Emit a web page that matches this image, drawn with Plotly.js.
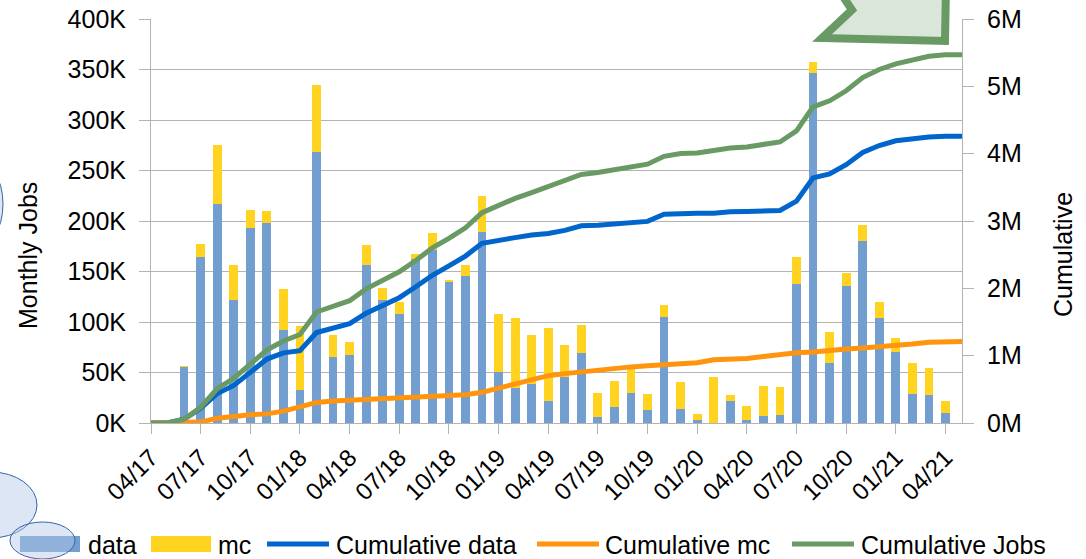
<!DOCTYPE html>
<html><head><meta charset="utf-8">
<script src="https://cdn.plot.ly/plotly-3.0.1.min.js"></script>
<style>html,body{margin:0;padding:0;background:#fff}#chart{width:1086px;height:559px}</style>
</head><body><div id="chart"></div>
<script>
const months = ["04/17","05/17","06/17","07/17","08/17","09/17","10/17","11/17","12/17",
  "01/18","02/18","03/18","04/18","05/18","06/18","07/18","08/18","09/18","10/18","11/18","12/18",
  "01/19","02/19","03/19","04/19","05/19","06/19","07/19","08/19","09/19","10/19","11/19","12/19",
  "01/20","02/20","03/20","04/20","05/20","06/20","07/20","08/20","09/20","10/20","11/20","12/20",
  "01/21","02/21","03/21","04/21","05/21"];
const dataJobs = [0,0,55500,164000,217000,122000,193000,198000,92000,33000,268500,65000,67000,156000,122000,108000,162000,171000,139500,145500,189000,50500,35000,39000,22000,46000,69000,6000,16000,30000,13000,105000,14000,3000,0,22000,3000,7000,8000,137500,347000,59500,136000,180500,104000,70500,29000,28000,10000,0];
const mcJobs = [0,0,1000,13000,58000,34000,17500,12000,41000,63000,66000,22500,13000,20000,11500,12000,5000,17500,2500,11000,35500,57500,69000,48000,72000,31000,28000,23500,25500,23000,15500,12000,27000,6000,45500,6000,13500,30000,28000,27000,10500,30500,12500,15500,16000,13500,30500,26000,12000,0];
const cumData = [0,0,55500,219500,436500,558500,751500,949500,1041500,1074500,1343000,1408000,1475000,1631000,1753000,1861000,2023000,2194000,2333500,2479000,2668000,2718500,2753500,2792500,2814500,2860500,2929500,2935500,2951500,2981500,2994500,3099500,3113500,3116500,3116500,3138500,3141500,3148500,3156500,3294000,3641000,3700500,3836500,4017000,4121000,4191500,4220500,4248500,4258500,4258500];
const cumMc = [0,0,1000,14000,72000,106000,123500,135500,176500,239500,305500,328000,341000,361000,372500,384500,389500,407000,409500,420500,456000,513500,582500,630500,702500,733500,761500,785000,810500,833500,849000,861000,888000,894000,939500,945500,959000,989000,1017000,1044000,1054500,1085000,1097500,1113000,1129000,1142500,1173000,1199000,1211000,1211000];
const cumJobs = [0,0,56500,233500,508500,664500,875000,1085000,1218000,1314000,1648500,1736000,1816000,1992000,2125500,2245500,2412500,2601000,2743000,2899500,3124000,3232000,3336000,3423000,3517000,3594000,3691000,3720500,3762000,3815000,3843500,3960500,4001500,4010500,4056000,4084000,4100500,4137500,4173500,4338000,4695500,4785500,4934000,5130000,5250000,5334000,5393500,5447500,5469500,5469500];
const xTickLabels = ["04/17","07/17","10/17","01/18","04/18","07/18","10/18","01/19","04/19","07/19","10/19","01/20","04/20","07/20","10/20","01/21","04/21"];
const leftTickVals = [0,50000,100000,150000,200000,250000,300000,350000,400000];
const leftTickText = ["0K","50K","100K","150K","200K","250K","300K","350K","400K"];
const rightTickVals = [0,1000000,2000000,3000000,4000000,5000000,6000000];
const rightTickText = ["0M","1M","2M","3M","4M","5M","6M"];
const seriesNames = ["data","mc","Cumulative data","Cumulative mc","Cumulative Jobs"];
const seriesColors = ["#729fcf","#ffd320","#0066cc","#ff950e","#6a9a64"];

const FONT = "Liberation Sans, Arial, sans-serif";
const W = 1086, H = 559, L = 151, R = 124, T = 19, B = 136;
const PW = W - L - R, PH = H - T - B;
const px = x => (x - L) / PW;
const py = y => (H - B - y) / PH;

const traces = [
  {type:'bar', name:seriesNames[0], x:months, y:dataJobs, marker:{color:seriesColors[0]}, width:0.53, showlegend:false, hoverinfo:'skip'},
  {type:'bar', name:seriesNames[1], x:months, y:mcJobs, marker:{color:seriesColors[1]}, width:0.53, showlegend:false, hoverinfo:'skip'},
  {type:'scatter', mode:'lines', name:seriesNames[2], x:months, y:cumData, yaxis:'y2', line:{color:seriesColors[2], width:5}, showlegend:false, hoverinfo:'skip'},
  {type:'scatter', mode:'lines', name:seriesNames[3], x:months, y:cumMc, yaxis:'y2', line:{color:seriesColors[3], width:5}, showlegend:false, hoverinfo:'skip'},
  {type:'scatter', mode:'lines', name:seriesNames[4], x:months, y:cumJobs, yaxis:'y2', line:{color:seriesColors[4], width:5}, showlegend:false, hoverinfo:'skip'}
];

// legend (drawn manually to match the wide swatches)
const legendY = 544;
const legendItems = [
  {kind:'rect', x0:20, x1:80, tx:86},
  {kind:'rect', x0:151, x1:211, tx:216},
  {kind:'line', x0:267, x1:329, tx:334},
  {kind:'line', x0:537, x1:599, tx:603},
  {kind:'line', x0:792, x1:854, tx:859}
];
const shapes = [];
const annotations = [];
legendItems.forEach((it, i) => {
  if (it.kind === 'rect') {
    shapes.push({type:'rect', xref:'paper', yref:'paper', x0:px(it.x0), x1:px(it.x1), y0:py(legendY+8), y1:py(legendY-8),
      fillcolor:seriesColors[i], line:{width:0}, layer:'above'});
  } else {
    shapes.push({type:'line', xref:'paper', yref:'paper', x0:px(it.x0), x1:px(it.x1), y0:py(legendY), y1:py(legendY),
      line:{color:seriesColors[i], width:5}, layer:'above'});
  }
  annotations.push({xref:'paper', yref:'paper', x:px(it.tx), y:py(legendY+1), xanchor:'left', yanchor:'middle',
    text:seriesNames[i], showarrow:false, font:{family:FONT, size:25, color:'#000'}});
});

// axis titles
annotations.push({xref:'paper', yref:'paper', x:px(28), y:py(256), textangle:-90, xanchor:'center', yanchor:'middle',
  text:'Monthly Jobs', showarrow:false, font:{family:FONT, size:25, color:'#000'}});
annotations.push({xref:'paper', yref:'paper', x:px(1063), y:py(255), textangle:-90, xanchor:'center', yanchor:'middle',
  text:'Cumulative', showarrow:false, font:{family:FONT, size:25, color:'#000'}});

// decorative shapes present in the reference picture
const pathPts = [[836,-14],[852,10],[822,38],[945,41],[946,-14]];
shapes.push({type:'path', xref:'paper', yref:'paper',
  path:'M' + pathPts.map(p => px(p[0]).toFixed(5) + ',' + py(p[1]).toFixed(5)).join(' L') + ' Z',
  fillcolor:'rgba(106,155,103,0.25)', line:{color:'#6a9a64', width:8}, layer:'above'});
const ellipses = [[-53,3,159,249],[-55,37,472,538],[10,75,522,559]];
ellipses.forEach(e => {
  shapes.push({type:'circle', xref:'paper', yref:'paper', x0:px(e[0]), x1:px(e[1]), y0:py(e[3]), y1:py(e[2]),
    fillcolor:'rgba(180,199,231,0.45)', line:{color:'#3465a4', width:1}, layer:'above'});
});

const layout = {
  width:W, height:H, margin:{l:L, r:R, t:T, b:B, pad:0},
  paper_bgcolor:'#fff', plot_bgcolor:'#fff',
  font:{family:FONT, color:'#000'},
  barmode:'stack', showlegend:false,
  xaxis:{type:'category', range:[0,49], tickvals:xTickLabels, ticktext:xTickLabels, tickangle:-45,
    ticks:'outside', ticklen:10, tickcolor:'#b3b3b3', showline:true, linecolor:'#b3b3b3', linewidth:1,
    showgrid:false, zeroline:false, tickfont:{family:FONT, size:24, color:'#000'}, fixedrange:true},
  yaxis:{range:[0,400000], tickvals:leftTickVals, ticktext:leftTickText, ticks:'outside', ticklen:11,
    tickcolor:'#b3b3b3', showline:true, linecolor:'#b3b3b3', gridcolor:'#b3b3b3', gridwidth:1, zeroline:false,
    tickfont:{family:FONT, size:25, color:'#000'}, ticklabelstandoff:8, fixedrange:true},
  yaxis2:{overlaying:'y', side:'right', range:[0,6000000], tickvals:rightTickVals, ticktext:rightTickText,
    ticks:'outside', ticklen:11, tickcolor:'#b3b3b3', showline:true, linecolor:'#b3b3b3', showgrid:false,
    zeroline:false, tickfont:{family:FONT, size:25, color:'#000'}, ticklabelstandoff:8, fixedrange:true},
  shapes:shapes, annotations:annotations
};
Plotly.newPlot('chart', traces, layout, {displayModeBar:false, staticPlot:true});
</script></body></html>
